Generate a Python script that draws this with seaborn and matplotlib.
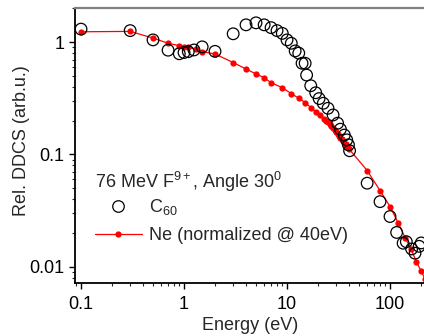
import matplotlib
matplotlib.use("Agg")
import matplotlib.pyplot as plt
from matplotlib.lines import Line2D
from matplotlib.ticker import FixedLocator, FixedFormatter, LogLocator, NullFormatter
import seaborn as sns
import pandas as pd

# ---- data ----
c60_energy = [0.1, 0.3, 0.5, 0.7, 0.9, 1.0, 1.1, 1.25, 1.5, 2, 3, 4, 5, 6, 7, 8, 9, 10,
              11, 12, 13, 14, 15, 15.5, 17, 19, 20.5, 22.5, 25, 28, 31, 33, 36, 38,
              39.5, 40.5, 60, 80, 100, 116, 134, 144, 162, 175, 192, 201]
c60_ddcs = [1.31, 1.27, 1.05, 0.85, 0.79, 0.81, 0.825, 0.854, 0.91, 0.83, 1.19, 1.43,
            1.49, 1.43, 1.35, 1.27, 1.2, 1.05, 0.98, 0.837, 0.80, 0.65, 0.65, 0.51,
            0.41, 0.355, 0.315, 0.286, 0.258, 0.225, 0.19, 0.168, 0.149, 0.135,
            0.122, 0.108, 0.0555, 0.038, 0.028, 0.0202, 0.0162, 0.0167, 0.0144,
            0.0132, 0.0152, 0.0163]

ne_energy = [0.1, 0.3, 0.5, 0.7, 0.9, 1.0, 1.1, 1.3, 1.5, 2, 3, 4, 5, 6, 7, 9, 11, 13,
             15, 17, 19, 21, 23, 24, 25, 26, 27, 28, 29, 30, 31, 32, 33, 34, 35, 36,
             37, 38, 39, 40, 60, 80, 100, 120, 140, 160, 180, 200, 220]
ne_ddcs = [1.24, 1.25, 1.09, 0.98, 0.933, 0.914, 0.90, 0.866, 0.825, 0.787, 0.66,
           0.578, 0.522, 0.484, 0.436, 0.394, 0.349, 0.317, 0.29, 0.262, 0.24,
           0.225, 0.208, 0.20, 0.194, 0.186, 0.178, 0.172, 0.166, 0.158, 0.152,
           0.146, 0.141, 0.137, 0.132, 0.127, 0.123, 0.119, 0.116, 0.112,
           0.072, 0.0477, 0.0344, 0.0246, 0.0182, 0.0144, 0.0111, 0.0092, 0.0077]

x_ticks = [0.1, 1, 10, 100]
x_tick_labels = ["0.1", "1", "10", "100"]
y_ticks = [0.01, 0.1, 1]
y_tick_labels = ["0.01", "0.1", "1"]

title_text = "76 MeV F$^{9+}$, Angle 30$^0$"
c60_label = "C$_{60}$"
ne_label = "Ne (normalized @ 40eV)"

# ---- style ----
sns.set_style("ticks")
plt.rcParams['font.family'] = ['Liberation Sans', 'DejaVu Sans']
plt.rcParams['mathtext.fontset'] = 'custom'
plt.rcParams['mathtext.rm'] = 'Liberation Sans'
plt.rcParams['mathtext.it'] = 'Liberation Sans:italic'
plt.rcParams['mathtext.default'] = 'regular'

W, H = 424, 336
fig = plt.figure(figsize=(W / 100, H / 100), dpi=100)
ax = fig.add_axes([75 / W, 1 - 283 / H, 351 / W, (283 - 8) / H])

df_c = pd.DataFrame({"Energy": c60_energy, "DDCS": c60_ddcs})
df_n = pd.DataFrame({"Energy": ne_energy, "DDCS": ne_ddcs})

sns.lineplot(data=df_n, x="Energy", y="DDCS", ax=ax, color="red", lw=0.9,
             marker="o", markersize=4.5, markeredgewidth=0, zorder=2, sort=True)
sns.scatterplot(data=df_c, x="Energy", y="DDCS", ax=ax, marker="o", s=70,
                facecolor="none", edgecolor="black", linewidth=0.9, zorder=3)

ax.set_xscale("log")
ax.set_yscale("log")
ax.set_xlim(0.0874, 223.6)
ax.set_ylim(0.00716, 2.02)

ax.xaxis.set_major_locator(FixedLocator(x_ticks))
ax.xaxis.set_major_formatter(FixedFormatter(x_tick_labels))
ax.yaxis.set_major_locator(FixedLocator(y_ticks))
ax.yaxis.set_major_formatter(FixedFormatter(y_tick_labels))
ax.xaxis.set_minor_locator(LogLocator(base=10, subs=range(2, 10)))
ax.yaxis.set_minor_locator(LogLocator(base=10, subs=range(2, 10)))
ax.xaxis.set_minor_formatter(NullFormatter())
ax.yaxis.set_minor_formatter(NullFormatter())

ax.tick_params(which="major", direction="out", length=4.5, width=1.0,
               labelsize=13, colors="black", pad=3)
ax.tick_params(axis="x", which="major", pad=5)
ax.tick_params(which="minor", direction="out", length=2.5, width=0.8)

for s in ["left", "bottom"]:
    ax.spines[s].set_color("black")
    ax.spines[s].set_linewidth(1.3)
ax.spines["top"].set_visible(True)
ax.spines["top"].set_color("#808080")
ax.spines["top"].set_linewidth(1.6)
ax.spines["right"].set_visible(False)

ax.set_xlabel("Energy (eV)", fontsize=13, labelpad=3)
ax.set_ylabel("Rel. DDCS (arb.u.)", fontsize=13)
ax.yaxis.set_label_coords((30 - 75) / 351, (283 - 141) / 275)

fig.text(95 / W, 1 - 182 / H, title_text, fontsize=13, ha="left", va="center")

handles = [
    Line2D([], [], ls="none", marker="o", markersize=8.3, markerfacecolor="none",
           markeredgecolor="black", markeredgewidth=0.9),
    Line2D([], [], color="red", lw=0.9, marker="o", markersize=4.5,
           markeredgewidth=0),
]
leg = ax.legend(handles, [c60_label, ne_label], loc="upper left",
                bbox_to_anchor=(95 / W, 1 - 197 / H), bbox_transform=fig.transFigure,
                frameon=False, fontsize=13, handlelength=2.6, handletextpad=0.4,
                labelspacing=0.55, borderpad=0, borderaxespad=0)

fig.savefig("out.png", dpi=100)
